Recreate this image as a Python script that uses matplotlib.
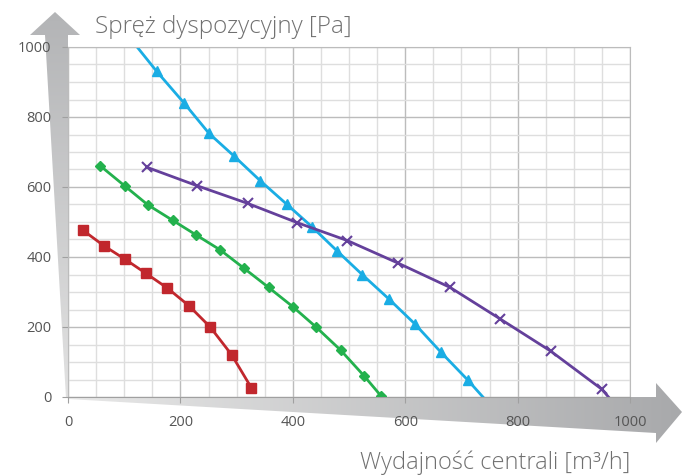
import matplotlib.pyplot as plt
import numpy as np
from matplotlib.patches import Polygon
from matplotlib.colors import LinearSegmentedColormap
from matplotlib.ticker import MultipleLocator

# dane (wydajnosc [m3/h], sprez [Pa])
red_x = [26, 64, 102, 139, 177, 215, 253, 291, 326]
red_y = [477, 432, 393, 353, 311, 261, 200, 121, 27]

green_x = [57, 101, 142, 186, 228, 271, 313, 357, 400, 442, 485, 527, 557]
green_y = [661, 603, 549, 505, 463, 420, 368, 313, 258, 199, 134, 60, 3]

blue_x = [113, 158, 207, 251, 295, 342, 389, 435, 479, 524, 571, 617, 663, 711, 755]
blue_y = [1020, 930, 839, 753, 689, 618, 551, 485, 417, 349, 280, 209, 129, 49, -30]

purple_x = [141, 229, 320, 408, 497, 588, 680, 769, 859, 950, 975]
purple_y = [656, 604, 553, 498, 447, 382, 313, 223, 131, 22, -25]

x_ticks = [0, 200, 400, 600, 800, 1000]
y_ticks = [0, 200, 400, 600, 800, 1000]

plt.rcParams['font.family'] = ['Open Sans', 'DejaVu Sans']

W, H = 682, 476
fig = plt.figure(figsize=(W / 100, H / 100), dpi=100)

# tlo ze strzalkami osi (wspolrzedne w pikselach)
bg = fig.add_axes([0, 0, 1, 1], zorder=0)
bg.set_xlim(0, W)
bg.set_ylim(H, 0)
bg.axis('off')


def strzalka(pts, c1, c2, vertical):
    poly = Polygon(pts, closed=True, facecolor='none', edgecolor='none')
    bg.add_patch(poly)
    xs = [p[0] for p in pts]
    ys = [p[1] for p in pts]
    cmap = LinearSegmentedColormap.from_list('g', [c1, c2])
    grad = np.linspace(0, 1, 256)
    if vertical:
        grad = grad.reshape(-1, 1)
    else:
        grad = grad.reshape(1, -1)
    im = bg.imshow(grad, cmap=cmap, aspect='auto', origin='upper',
                   extent=(min(xs), max(xs), max(ys), min(ys)), zorder=0)
    im.set_clip_path(poly)


# os Y
strzalka([(55, 12), (80, 35), (68, 35), (68, 398), (66, 398), (45, 35), (30, 35)],
         '#b3b4b6', '#e2e2e2', True)
# os X
strzalka([(68, 397), (656, 397), (656, 383), (682, 412), (656, 443), (656, 433), (68, 399)],
         '#e8e8e8', '#a8a9ab', False)
bg.set_xlim(0, W)
bg.set_ylim(H, 0)

ax = fig.add_axes([68 / W, 79 / H, 562 / W, 350 / H], zorder=1)
ax.set_facecolor('white')
ax.set_xlim(0, 1000)
ax.set_ylim(0, 1000)

ax.xaxis.set_minor_locator(MultipleLocator(50))
ax.yaxis.set_minor_locator(MultipleLocator(50))
ax.set_xticks(x_ticks)
ax.set_yticks(y_ticks)
ax.grid(which='minor', color='#dedede', lw=1)
ax.grid(which='major', color='#bcbcbc', lw=1)
ax.set_axisbelow(True)

for s in ['top', 'right', 'left']:
    ax.spines[s].set_color('#bcbcbc')
ax.spines['bottom'].set_color('#a0a0a0')

ax.tick_params(which='minor', length=0)
ax.tick_params(which='major', length=4, color='#a0a0a0', labelcolor='#555555',
               labelsize=10.5)
ax.tick_params(axis='x', pad=9)
ax.tick_params(axis='y', pad=8)

ax.plot(red_x, red_y, color='#c1272d', lw=2, marker='s', markersize=7)
ax.plot(green_x, green_y, color='#23b14d', lw=2, marker='D', markersize=5.5)
ax.plot(blue_x, blue_y, color='#1aade4', lw=2, marker='^', markersize=7.5,
        markevery=slice(1, -1))
ax.plot(purple_x, purple_y, color='#64409b', lw=2, marker='x', markersize=7,
        mew=1.5, markevery=slice(0, -1))

fig.text(95 / W, 1 - 33 / H, 'Spręż dyspozycyjny [Pa]', fontsize=17.5,
         color='#707070', fontweight='light', va='baseline', ha='left')
fig.text(630 / W, 1 - 469 / H, 'Wydajność centrali [m³/h]', fontsize=17,
         color='#707070', fontweight='light', va='baseline', ha='right')

fig.savefig('out.png', dpi=100)
